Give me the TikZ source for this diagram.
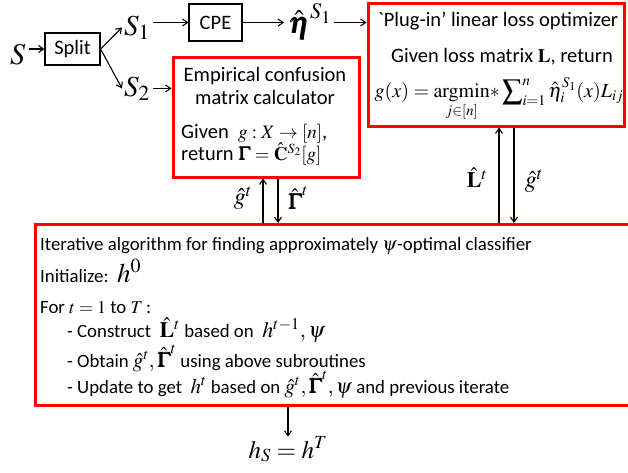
\documentclass[tikz,border=0pt]{standalone}
\usepackage{amsmath}
\usepackage{mathptmx}
\usepackage{bm}
\usepackage[no-math]{fontspec}
\setmainfont{Carlito}
\usetikzlibrary{arrows.meta}
\newcommand{\fs}[1]{\fontsize{#1}{#1}\selectfont}
\begin{document}
\begin{tikzpicture}[x=1pt,y=-1pt,
  every node/.style={inner sep=0pt, font=\fs{20.5}},
  blackbox/.style={draw=black, line width=1.2pt, inner sep=0pt},
  redbox/.style={draw=red, line width=3pt, inner sep=0pt},
  arr/.style={-{Straight Barb[length=5pt,width=7pt]}, line width=1.1pt},
  txt/.style={anchor=base west},
  algotxt/.style={anchor=base west, font=\fs{18.8}}]
\useasboundingbox (0,0) rectangle (628,472);

% top row
\node[txt] (s) at (10,64) {\fs{30}$S$};
\node[blackbox, minimum width=55, minimum height=32] (split) at (72.5,49) {Split};
\node[txt] (s1) at (124,35) {\fs{29}$S_1$};
\node[txt] (s2) at (124,96) {\fs{29}$S_2$};
\node[blackbox, minimum width=53, minimum height=37] (cpe) at (215.5,22.5) {CPE};
\node[txt] (eta) at (288,33) {\fs{30}$\bm{\hat\eta}^{S_1}$};

\draw[arr, shorten <=3pt] (split.west -| s.east) -- (split.west);
\draw[arr] (split.east) -- ([xshift=-2pt]s1.west);
\draw[arr] (split.east) -- ([xshift=-2pt]s2.west);
\draw[arr, shorten <=3pt] (cpe.west -| s1.east) -- (cpe.west);
\draw[arr, shorten >=4pt] (cpe.east) -- (cpe.east -| eta.west);

% plug-in box
\node[redbox, minimum width=256, minimum height=123] (plug) at (496,64.5) {};
\node[anchor=base] (p1) at (498,26) {\textasciigrave Plug-in’ linear loss optimizer};
\node[anchor=base] (p2) at (502,62) {Given loss matrix {\fs{19}$\mathbf{L}$}, return};
\node[anchor=base] (p3) at (499,97) {\fs{20}$g(x)=\underset{j\in[n]}{\mathrm{argmin}}{*}\displaystyle\sum\nolimits_{i=1}^{n}\hat\eta_i^{S_1}(x)L_{ij}$};
\draw[arr, shorten <=3pt] (cpe.east -| eta.east) -- (cpe.east -| plug.west);

% empirical box
\node[redbox, minimum width=186, minimum height=120] (emp) at (266,117) {};
\node[anchor=base] (e1) at (265,81) {Empirical confusion};
\node[anchor=base] (e2) at (265,104) {matrix calculator};
\node[txt] (e3) at (181,138) {Given\ \ {\fs{19}$g:X\rightarrow[n]$},};
\node[txt] (e4) at (181,160) {return {\fs{19}$\bm{\Gamma}=\hat{\mathbf{C}}^{S_2}[g]$}};
\draw[arr, shorten <=3pt] (s2.east) -- (s2.east -| emp.west);

% algorithm box
\node[redbox, minimum width=640, minimum height=181, anchor=north west] (algo) at (34,223) {};
\node[algotxt] (a1) at (40,250) {Iterative algorithm for finding approximately {\fs{19}$\psi$}-optimal classifier};
\node[algotxt] (a2) at (40,282) {Initialize:\ \ {\fs{27}$h^0$}};
\node[algotxt] (a3) at (40,313) {For {\fs{18}$t=1$} to {\fs{18}$T$}\,:};
\node[algotxt] (a4) at (67,337) {- Construct\ \ {\fs{22}$\hat{\mathbf{L}}^t$} based on\ \ {\fs{22}$h^{t-1},\psi$}};
\node[algotxt] (a5) at (67,367) {- Obtain {\fs{21}$\hat g^t,\hat{\bm{\Gamma}}^{t}$} using above subroutines};
\node[algotxt] (a6) at (67,393) {- Update to get\ \ {\fs{21}$h^t$} based on {\fs{21}$\hat g^t,\hat{\bm{\Gamma}}^{t},\psi$} and previous iterate};

% vertical connectors
\draw[arr] ([xshift=-3pt]emp.south |- algo.north) -- ([xshift=-3pt]emp.south);
\draw[arr] ([xshift=12pt]emp.south) -- ([xshift=12pt]emp.south |- algo.north);
\draw[arr] ([xshift=3pt]plug.south |- algo.north) -- ([xshift=3pt]plug.south);
\draw[arr] ([xshift=18pt]plug.south) -- ([xshift=18pt]plug.south |- algo.north);
\node (lg1) at (243,198) {\fs{24}$\hat g^t$};
\node (lG) at (298,198) {\fs{22}$\hat{\bm{\Gamma}}^{t}$};
\node (lL) at (477,178) {\fs{22}$\hat{\mathbf{L}}^t$};
\node (lg2) at (534,181) {\fs{24}$\hat g^t$};

% result
\node[anchor=base] (hs) at (288,458) {\fs{25}$h_S=h^T$};
\draw[arr] (algo.south -| hs.north) -- (hs.north);
\end{tikzpicture}
\end{document}
